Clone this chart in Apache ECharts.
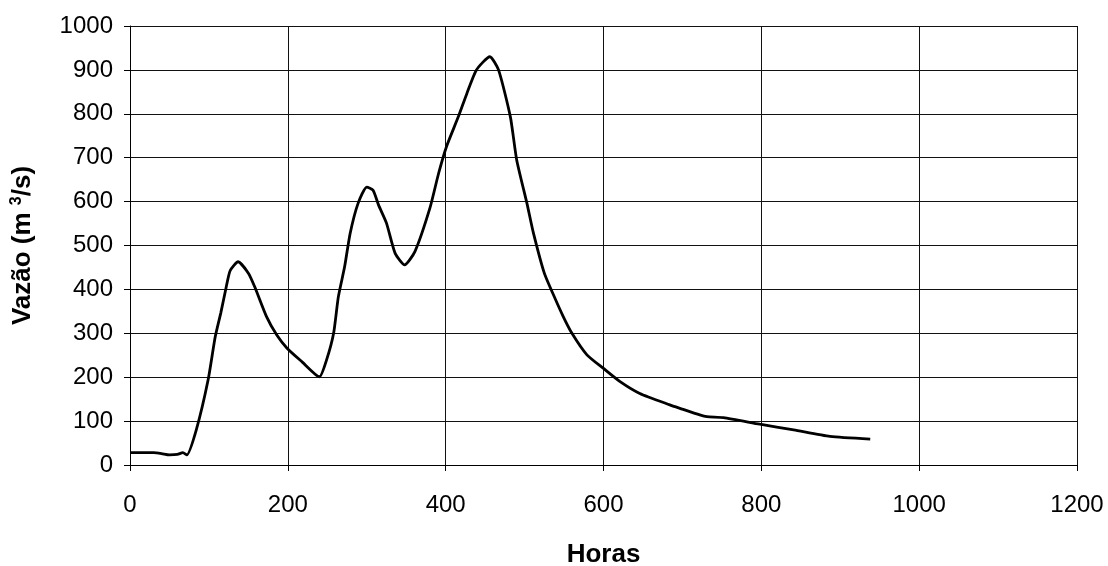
<!DOCTYPE html>
<html>
<head>
<meta charset="utf-8">
<script src="https://cdn.jsdelivr.net/npm/echarts@6/dist/echarts.min.js"></script>
<style>html,body{margin:0;padding:0;background:#fff}#c{width:1108px;height:566px}</style>
</head>
<body>
<div id="c"></div>
<script>
const horas = [0, 30, 40, 50, 60, 67, 72, 84, 99, 108, 115, 122, 127, 137, 150, 158, 173, 186, 199, 218, 240, 249, 258, 264, 272, 279, 289, 300, 308, 315, 325, 336, 348, 361, 380, 391, 401, 416, 427, 439, 456, 467, 482, 490, 503, 511, 525, 536, 549, 560, 579, 600, 621, 646, 684, 697, 722, 731, 752, 798, 841, 887, 938];
const vazao = [28, 28, 26, 23, 24, 28, 23, 80, 194, 292, 346, 406, 443, 463, 437, 406, 338, 296, 266, 235, 201, 239, 300, 383, 452, 528, 596, 633, 626, 592, 551, 482, 456, 486, 585, 664, 725, 793, 847, 900, 930, 900, 793, 695, 596, 530, 437, 390, 338, 300, 251, 220, 190, 163, 137, 129, 114, 110, 108, 93, 80, 65, 59];
const xTicks = [0, 200, 400, 600, 800, 1000, 1200];
const yTicks = [0, 100, 200, 300, 400, 500, 600, 700, 800, 900, 1000];

const pts = horas.map((h, i) => [h, vazao[i]]);
const chart = echarts.init(document.getElementById('c'));
const font = 'Liberation Sans, Arial, sans-serif';
chart.setOption({
  animation: false,
  grid: { left: 130, right: 31, top: 26, bottom: 101, containLabel: false, outerBoundsMode: 'none' },
  xAxis: {
    type: 'value', min: xTicks[0], max: xTicks[xTicks.length - 1], interval: 200,
    name: 'Horas', nameLocation: 'middle', nameGap: 77,
    nameTextStyle: { fontFamily: font, fontSize: 26, fontWeight: 'bold', color: '#000' },
    axisLine: { lineStyle: { color: '#000', width: 1 } },
    axisTick: { show: true, length: 6, lineStyle: { color: '#000' } },
    axisLabel: { fontFamily: font, fontSize: 24, color: '#000', margin: 28, formatter: v => String(v) },
    splitLine: { show: true, lineStyle: { color: '#111', width: 1 } }
  },
  yAxis: {
    type: 'value', min: yTicks[0], max: yTicks[yTicks.length - 1], interval: 100,
    name: 'Vazão (m {sup|3}/s)', nameLocation: 'middle', nameGap: 93,
    nameTextStyle: { fontFamily: font, fontSize: 26, fontWeight: 'bold', color: '#000',
      rich: { sup: { fontFamily: font, fontSize: 16, fontWeight: 'bold', color: '#000', verticalAlign: 'top', padding: [0, 0, 12, 0] } } },
    axisLine: { show: true, lineStyle: { color: '#000', width: 1 } },
    axisTick: { show: true, length: 6, lineStyle: { color: '#000' } },
    axisLabel: { fontFamily: font, fontSize: 24, color: '#000', margin: 17, formatter: v => String(v) },
    splitLine: { show: true, lineStyle: { color: '#111', width: 1 } }
  },
  series: [{
    type: 'line', data: pts, showSymbol: false, smooth: 0.2,
    lineStyle: { color: '#000', width: 2.8 }
  }]
});
</script>
</body>
</html>
